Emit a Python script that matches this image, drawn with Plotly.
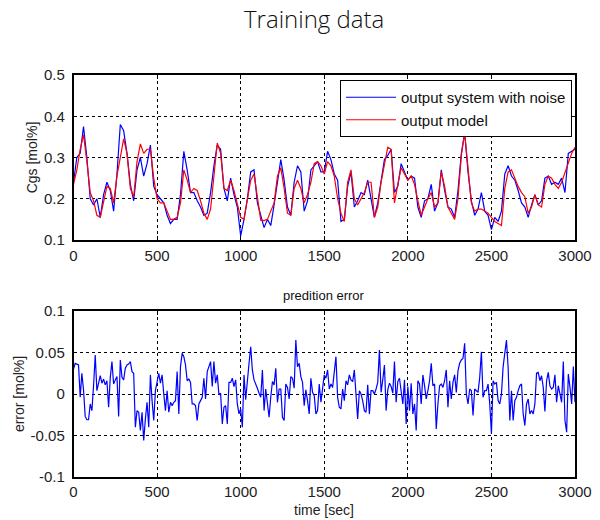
import plotly.graph_objects as go

# ---- data ----
t_model = list(range(0, 3001, 20))
y_system = [
    0.24, 0.30, 0.31, 0.375, 0.30, 0.20, 0.185, 0.20, 0.155, 0.21,
    0.24, 0.22, 0.17, 0.26, 0.38, 0.365, 0.31, 0.235, 0.195, 0.27,
    0.30, 0.255, 0.285, 0.33, 0.23, 0.21, 0.20, 0.19, 0.16, 0.14,
    0.15, 0.15, 0.21, 0.315, 0.27, 0.215, 0.215, 0.195, 0.18, 0.16,
    0.165, 0.215, 0.28, 0.33, 0.32, 0.225, 0.195, 0.25, 0.21, 0.18,
    0.11, 0.15, 0.20, 0.265, 0.27, 0.19, 0.16, 0.13, 0.15, 0.135,
    0.185, 0.24, 0.295, 0.245, 0.18, 0.16, 0.24, 0.28, 0.265, 0.17,
    0.195, 0.27, 0.28, 0.29, 0.265, 0.265, 0.315, 0.295, 0.26, 0.245,
    0.145, 0.15, 0.23, 0.265, 0.18, 0.195, 0.215, 0.21, 0.245, 0.20,
    0.155, 0.19, 0.245, 0.295, 0.305, 0.32, 0.215, 0.23, 0.285, 0.265,
    0.245, 0.255, 0.25, 0.18, 0.155, 0.195, 0.20, 0.235, 0.17, 0.19,
    0.27, 0.22, 0.18, 0.175, 0.155, 0.22, 0.31, 0.36, 0.265, 0.195,
    0.16, 0.175, 0.215, 0.17, 0.16, 0.125, 0.155, 0.145, 0.17, 0.26,
    0.28, 0.255, 0.245, 0.22, 0.19, 0.18, 0.155, 0.185, 0.21, 0.185,
    0.195, 0.25, 0.255, 0.235, 0.24, 0.235, 0.25, 0.215, 0.31, 0.315,
    0.32,
]
y_model = [
    0.235, 0.27, 0.32, 0.355, 0.29, 0.215, 0.195, 0.16, 0.155, 0.19,
    0.23, 0.225, 0.19, 0.255, 0.305, 0.345, 0.31, 0.225, 0.205, 0.29,
    0.333, 0.31, 0.32, 0.32, 0.25, 0.20, 0.19, 0.19, 0.17, 0.15,
    0.15, 0.155, 0.19, 0.27, 0.245, 0.215, 0.225, 0.22, 0.195, 0.165,
    0.15, 0.175, 0.255, 0.335, 0.31, 0.225, 0.22, 0.245, 0.22, 0.19,
    0.155, 0.15, 0.195, 0.245, 0.26, 0.205, 0.148, 0.147, 0.15, 0.17,
    0.19, 0.255, 0.275, 0.225, 0.165, 0.16, 0.225, 0.245, 0.225, 0.19,
    0.21, 0.24, 0.285, 0.29, 0.28, 0.26, 0.29, 0.28, 0.255, 0.20,
    0.165, 0.145, 0.24, 0.27, 0.20, 0.185, 0.20, 0.215, 0.24, 0.24,
    0.155, 0.18, 0.24, 0.285, 0.325, 0.32, 0.19, 0.235, 0.275, 0.26,
    0.245, 0.255, 0.235, 0.195, 0.16, 0.18, 0.20, 0.215, 0.18, 0.19,
    0.265, 0.23, 0.18, 0.165, 0.15, 0.20, 0.305, 0.36, 0.275, 0.19,
    0.17, 0.175, 0.175, 0.17, 0.165, 0.155, 0.145, 0.14, 0.135, 0.225,
    0.265, 0.27, 0.25, 0.23, 0.215, 0.205, 0.165, 0.18, 0.21, 0.185,
    0.18, 0.235, 0.255, 0.25, 0.235, 0.225, 0.24, 0.265, 0.285, 0.31,
    0.325,
]
t_err = list(range(0, 3001, 10))
err = [
    0.03, 0.037, 0.036, 0.035, -0.004, 0.025, 0.005, -0.027, -0.031, -0.031,
    -0.012, -0.02, 0.01, 0.047, 0.004, 0.012, 0.022, 0.013, 0.018, 0.011,
    0.016, -0.016, 0.02, 0.039, 0.012, 0.017, 0.021, -0.027, 0.041, 0.02,
    0.017, 0.031, 0.035, 0.036, 0.039, 0.027, 0.025, -0.04, -0.02, -0.022,
    -0.044, -0.022, -0.056, -0.03, -0.01, -0.04, 0.023, -0.008, -0.032, 0.004,
    0.016, 0.025, 0.013, 0.023, 0.0, -0.02, 0.004, -0.022, -0.01, -0.014,
    -0.01, -0.008, 0.027, -0.024, 0.033, 0.049, 0.045, 0.035, 0.016, 0.018,
    0.014, -0.012, -0.012, -0.014, -0.032, -0.012, -0.008, -0.004, 0.019, -0.006,
    0.027, 0.033, 0.039, 0.009, 0.039, 0.013, 0.023, -0.001, 0.001, -0.036,
    -0.016, -0.014, -0.036, 0.014, 0.014, 0.019, 0.009, 0.017, -0.012, -0.024,
    -0.018, -0.04, 0.023, -0.007, 0.02, 0.037, 0.057, 0.029, 0.017, 0.013,
    0.007, 0.001, -0.004, 0.029, -0.02, 0.006, -0.012, -0.028, -0.004, 0.015,
    0.011, 0.031, -0.01, 0.006, 0.006, -0.028, -0.032, 0.012, 0.008, -0.006,
    0.021, 0.019, 0.007, 0.065, 0.033, 0.037, 0.021, 0.014, -0.014, 0.005,
    -0.008, -0.024, 0.019, 0.002, -0.002, -0.024, -0.02, 0.012, -0.01, 0.006,
    0.023, 0.019, 0.029, 0.006, 0.012, 0.008, 0.025, 0.045, -0.004, -0.016,
    -0.018, 0.006, -0.008, 0.016, 0.011, 0.023, 0.017, 0.015, 0.029, -0.004,
    -0.03, 0.004, 0.0, -0.008, -0.02, -0.022, 0.011, -0.024, 0.004, 0.004,
    0.0, 0.006, 0.014, 0.053, 0.002, 0.017, 0.035, -0.02, 0.005, 0.013,
    0.009, 0.001, 0.039, -0.01, 0.015, 0.019, 0.0, -0.012, 0.017, -0.036,
    0.009, -0.02, 0.013, -0.024, -0.012, -0.044, 0.016, 0.012, -0.012, 0.023,
    0.01, -0.006, 0.004, 0.016, 0.037, 0.01, 0.012, -0.042, -0.012, 0.01,
    0.012, 0.008, 0.016, 0.029, -0.016, 0.016, -0.006, 0.014, 0.023, 0.002,
    0.028, 0.037, 0.041, 0.043, 0.061, 0.0, -0.012, 0.006, 0.004, -0.026,
    0.006, 0.004, 0.002, 0.02, 0.051, -0.004, 0.004, 0.004, 0.012, -0.012,
    -0.048, 0.016, 0.012, 0.014, -0.008, -0.012, 0.0, 0.033, 0.049, 0.065,
    0.032, -0.032, 0.004, -0.032, -0.008, -0.004, 0.004, 0.01, 0.012, -0.024,
    -0.038, -0.012, -0.006, -0.024, -0.02, -0.024, -0.012, 0.025, 0.026, 0.016,
    0.022, 0.008, -0.021, 0.016, 0.026, 0.01, 0.006, 0.008, 0.023, -0.01,
    0.01, -0.002, -0.01, 0.039, -0.032, -0.046, 0.024, 0.008, -0.012, 0.033,
    -0.01,
]
x_ticks = [0, 500, 1000, 1500, 2000, 2500, 3000]
top_yticks = [0.1, 0.2, 0.3, 0.4, 0.5]
bot_yticks = [-0.1, -0.05, 0, 0.05, 0.1]
bot_yticktext = ["-0.1", "-0.05", "0", "0.05", "0.1"]

FONT = "Liberation Sans, Arial, sans-serif"
W, H = 600, 520

fig = go.Figure()
fig.add_trace(go.Scatter(x=t_model, y=y_system, mode="lines", name="output system with noise",
                         legendgroup="a", line=dict(color="#0000FF", width=1.2),
                         xaxis="x", yaxis="y"))
fig.add_trace(go.Scatter(x=t_model, y=y_model, mode="lines", name="output model",
                         legendgroup="b", line=dict(color="#FF0000", width=1.2),
                         xaxis="x", yaxis="y"))
fig.add_trace(go.Scatter(x=t_err, y=err, mode="lines", name="error", showlegend=False,
                         line=dict(color="#0000FF", width=1.2), xaxis="x2", yaxis="y2"))

xdom = [73.5 / W, 575 / W]
axis_common = dict(showline=True, linecolor="black", linewidth=1.5, mirror="ticks",
                   ticks="inside", ticklen=4, tickcolor="black", automargin=False,
                   showgrid=True, gridcolor="black", griddash="dot", gridwidth=1,
                   zeroline=False, tickfont=dict(family=FONT, size=15, color="#222"))

fig.update_layout(
    width=W, height=H, paper_bgcolor="white", plot_bgcolor="white",
    margin=dict(l=0, r=0, t=0, b=0, autoexpand=False),
    font=dict(family=FONT, size=15, color="#222"),
    xaxis=dict(domain=xdom, anchor="y", range=[0, 3000], tickvals=x_ticks,
               ticklabelstandoff=1, **axis_common),
    yaxis=dict(domain=[1 - 240 / H, 1 - 75 / H], anchor="x", range=[0.1, 0.5],
               tickvals=top_yticks, tickformat=".1f", ticklabelstandoff=4,
               title=dict(text="Cgs [mol%]", font=dict(family=FONT, size=14), standoff=3),
               **axis_common),
    xaxis2=dict(domain=xdom, anchor="y2", range=[0, 3000], tickvals=x_ticks,
                ticklabelstandoff=0, **axis_common),
    yaxis2=dict(domain=[1 - 477 / H, 1 - 311 / H], anchor="x2", range=[-0.1, 0.1],
                tickvals=bot_yticks, ticktext=bot_yticktext, ticklabelstandoff=4,
                title=dict(text="error [mol%]", font=dict(family=FONT, size=14), standoff=3),
                **axis_common),
    legend=dict(x=572 / W, y=1 - 80 / H, xanchor="right", yanchor="top",
                bgcolor="white", bordercolor="black", borderwidth=1,
                itemwidth=50, tracegroupgap=0,
                font=dict(family=FONT, size=15, color="#111")),
    annotations=[
        dict(text="Training data", x=314 / W, y=1 - 19 / H, xref="paper", yref="paper",
             xanchor="center", yanchor="middle", showarrow=False,
             font=dict(family="Open Sans, Liberation Sans, sans-serif", size=24,
                       weight=300, color="#111")),
        dict(text="predition error", x=324 / W, y=1 - 295 / H, xref="paper", yref="paper",
             xanchor="center", yanchor="middle", showarrow=False,
             font=dict(family=FONT, size=13, color="#111")),
        dict(text="time [sec]", x=324 / W, y=1 - 510 / H, xref="paper", yref="paper",
             xanchor="center", yanchor="middle", showarrow=False,
             font=dict(family=FONT, size=14, color="#222")),
    ],
)

# remove the default 8px page margin so the figure fills the 600x520 window exactly
fig.write_html("out.html", config={"displayModeBar": False},
               post_script="document.body.style.margin='0px';")
